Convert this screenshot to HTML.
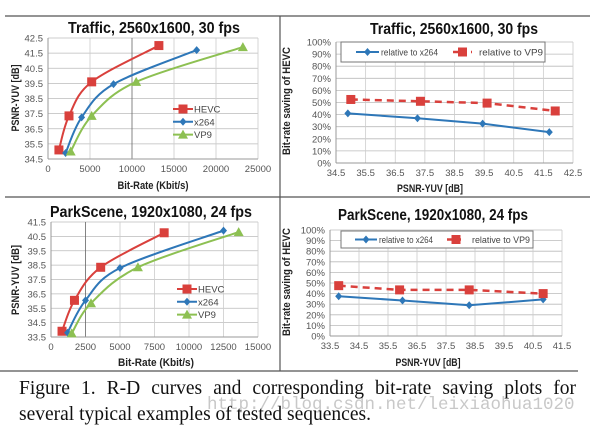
<!DOCTYPE html>
<html><head><meta charset="utf-8"><style>
body{margin:0;background:#fff;width:600px;height:429px;overflow:hidden;position:relative}
svg{position:absolute;left:0;top:0}
.cap{position:absolute;left:19px;width:557px;font-family:"Liberation Serif",serif;font-size:19.5px;color:#111;line-height:26px;text-align:justify;text-align-last:justify}
.wm{position:absolute;left:207px;top:395px;font-family:"Liberation Mono",monospace;font-size:17.5px;color:#c8c8c8}
</style></head><body>
<svg id="s" width="600" height="429" font-family="Liberation Sans, sans-serif"></svg>
<div class="wm">http://blog.csdn.net/leixiaohua1020</div>
<div class="cap" style="top:376px">Figure 1. R-D curves and corresponding bit-rate saving plots for</div>
<div class="cap" style="top:402px;text-align-last:left">several typical examples of tested sequences.</div>
<script>
// Chart 1: Traffic R-D
const c1HevcX=[1300,2500,5200,13200], c1HevcY=[35.1,37.35,39.6,42.0];
const c1X264X=[2100,4000,7800,17700], c1X264Y=[34.9,37.25,39.45,41.7];
const c1Vp9X=[2700,5200,10500,23200], c1Vp9Y=[35.0,37.35,39.6,41.9];
const c1XTicks=[0,5000,10000,15000,20000,25000];
const c1YTicks=[34.5,35.5,36.5,37.5,38.5,39.5,40.5,41.5,42.5];
// Chart 2: Traffic saving
const c2X264X=[34.9,37.25,39.45,41.7], c2X264Y=[41,37,32.5,25.5];
const c2Vp9X=[35.0,37.35,39.6,41.9], c2Vp9Y=[52.5,51,49.5,43];
const c2XTicks=[34.5,35.5,36.5,37.5,38.5,39.5,40.5,41.5,42.5];
const pctTicks=[0,10,20,30,40,50,60,70,80,90,100];
// Chart 3: ParkScene R-D
const c3HevcX=[800,1700,3600,8200], c3HevcY=[33.9,36.05,38.35,40.75];
const c3X264X=[1200,2500,5000,12500], c3X264Y=[33.8,36.05,38.3,40.9];
const c3Vp9X=[1500,2900,6300,13600], c3Vp9Y=[33.75,35.85,38.35,40.8];
const c3XTicks=[0,2500,5000,7500,10000,12500,15000];
const c3YTicks=[33.5,34.5,35.5,36.5,37.5,38.5,39.5,40.5,41.5];
// Chart 4: ParkScene saving
const c4X264X=[33.8,36.0,38.3,40.85], c4X264Y=[37.5,33.5,29,34.5];
const c4Vp9X=[33.8,35.9,38.3,40.85], c4Vp9Y=[47.5,43.5,43.5,40];
const c4XTicks=[33.5,34.5,35.5,36.5,37.5,38.5,39.5,40.5,41.5];

const S=document.getElementById('s');const NS='http://www.w3.org/2000/svg';
function mk(t,a,p){const e=document.createElementNS(NS,t);for(const k in a)e.setAttribute(k,a[k]);(p||S).appendChild(e);return e;}
function txt(x,y,s,a,p){const e=mk('text',Object.assign({x:x,y:y},a),p);e.textContent=s;return e;}
function fit(a,w){return Object.assign(a,{textLength:w,lengthAdjust:'spacingAndGlyphs'});}
const RED='#d9403c',BLUE='#2e77b8',GREEN='#8dc052';
function scale(d0,d1,r0,r1){return v=>r0+(v-d0)/(d1-d0)*(r1-r0);}
function smooth(pts){let d='M'+pts[0][0]+','+pts[0][1];for(let i=0;i<pts.length-1;i++){const p0=pts[i-1]||pts[i],p1=pts[i],p2=pts[i+1],p3=pts[i+2]||p2;const t=6;d+=' C'+(p1[0]+(p2[0]-p0[0])/t)+','+(p1[1]+(p2[1]-p0[1])/t)+' '+(p2[0]-(p3[0]-p1[0])/t)+','+(p2[1]-(p3[1]-p1[1])/t)+' '+p2[0]+','+p2[1];}return d;}
function marker(g,type,x,y,c){
  if(type==='sq')return mk('rect',{x:x-4.5,y:y-4.5,width:9,height:9,fill:c},g);
  if(type==='di')return mk('path',{d:`M${x},${y-4}L${x+3.5},${y}L${x},${y+4}L${x-3.5},${y}Z`,fill:c},g);
  return mk('path',{d:`M${x},${y-5}L${x+5},${y+4}L${x-5},${y+4}Z`,fill:c},g);
}
function chart(o){
  const g=mk('g',{});
  const sx=scale(o.xd[0],o.xd[1],o.x0,o.x1),sy=scale(o.yd[0],o.yd[1],o.y0,o.y1);
  o.yTicks.forEach(v=>{mk('line',{x1:o.x0,x2:o.x1,y1:sy(v),y2:sy(v),stroke:'#bbb','stroke-width':0.8},g);
    txt(o.x0-5,sy(v)+3.5,o.pct?v+'%':v.toFixed(1),{'font-size':9.5,fill:'#555','text-anchor':'end'},g);});
  o.xTicks.forEach(v=>{mk('line',{x1:sx(v),x2:sx(v),y1:o.y0,y2:o.y1,stroke:(o.dark===v?'#666':'#ccc'),'stroke-width':0.8},g);
    txt(sx(v),o.y0+13,o.pct?v.toFixed(1):String(v),{'font-size':9.5,fill:'#555','text-anchor':'middle'},g);});
  mk('line',{x1:o.x0,x2:o.x0,y1:o.y0,y2:o.y1,stroke:'#999'},g);
  mk('line',{x1:o.x0,x2:o.x1,y1:o.y0,y2:o.y0,stroke:'#999'},g);
  const tt=txt(o.tx-o.tw/2,o.ty,o.title,fit({'font-size':16,'font-weight':'bold',fill:'#111'},o.tw),g);
  
  txt(o.xtx-o.xtw/2,o.xty,o.xTitle,fit({'font-size':11,'font-weight':'bold',fill:'#222'},o.xtw),g);
  txt(-o.ytw/2,0,o.yTitle,fit({'font-size':11,'font-weight':'bold',fill:'#222',transform:`translate(${o.ytx},${o.yty}) rotate(-90)`},o.ytw),g);
  o.series.forEach(s=>{
    const sg=mk('g',{},g);
    const pts=s.xs.map((x,i)=>[sx(x),sy(s.ys[i])]);
    mk('path',{d:o.pct?('M'+pts.map(p=>p.join(',')).join('L')):smooth(pts),fill:'none',stroke:s.c,'stroke-width':s.dash?2.5:2,'stroke-dasharray':s.dash?'7,5':'none'},sg);
    pts.forEach(p=>marker(sg,s.m,p[0],p[1],s.c));
  });
  const lg=mk('g',{},g);
  if(o.pct){
    mk('rect',{x:o.lx,y:o.ly,width:o.lw,height:o.lh,fill:'#fff',stroke:'#777'},lg);
    const cy=o.ly+o.lh/2;
    o.series.forEach((s,i)=>{const it=o.items[i];
      mk('line',{x1:it[0],x2:it[1],y1:cy,y2:cy,stroke:s.c,'stroke-width':s.dash?2.5:2,'stroke-dasharray':s.dash?'5,4':'none'},lg);
      marker(lg,s.m,(it[0]+it[1])/2,cy,s.c);
      txt(it[2],cy+3.5,s.label,fit({'font-size':9,fill:'#444'},it[3]),lg);});
  } else {
    o.series.forEach((s,i)=>{const y=o.ly+i*12.8,bx=o.lx;
      mk('line',{x1:bx-10,x2:bx+10,y1:y,y2:y,stroke:s.c,'stroke-width':2},lg);
      marker(lg,s.m,bx,y,s.c);
      txt(bx+11,y+3.5,s.label,{'font-size':9.5,fill:'#444'},lg);});
  }
}
mk('line',{x1:5,x2:590,y1:16,y2:16,stroke:'#555','stroke-width':1.2});
mk('line',{x1:5,x2:590,y1:197,y2:197,stroke:'#555','stroke-width':1.2});
mk('line',{x1:0,x2:578,y1:371,y2:371,stroke:'#555','stroke-width':1.2});
mk('line',{x1:280,x2:280,y1:16,y2:371,stroke:'#555','stroke-width':1.2});

chart({name:'traffic-rd-chart',x0:48,x1:258,y0:159,y1:38,xd:[0,25000],yd:[34.5,42.5],xTicks:c1XTicks,yTicks:c1YTicks,dark:10000,
  title:'Traffic,  2560x1600, 30 fps',tx:154,tw:172,ty:33,xTitle:'Bit-Rate (Kbit/s)',xtx:153,xtw:71,xty:189,yTitle:'PSNR-YUV [dB]',ytx:19,yty:98,ytw:67,
  lx:183,ly:109,series:[{label:'HEVC',xs:c1HevcX,ys:c1HevcY,c:RED,m:'sq'},{label:'x264',xs:c1X264X,ys:c1X264Y,c:BLUE,m:'di'},{label:'VP9',xs:c1Vp9X,ys:c1Vp9Y,c:GREEN,m:'tr'}]});
chart({name:'traffic-saving-chart',pct:true,x0:336,x1:573,y0:163,y1:42,xd:[34.5,42.5],yd:[0,100],xTicks:c2XTicks,yTicks:pctTicks,
  title:'Traffic, 2560x1600, 30 fps',tx:454,tw:168,ty:34,xTitle:'PSNR-YUV [dB]',xtx:430,xtw:66,xty:192,yTitle:'Bit-rate saving of HEVC',ytx:290,yty:101,ytw:108,
  lx:341,ly:42,lw:204,lh:20,items:[[356,379,381,57],[453,472,479,64]],series:[{label:'relative to x264',xs:c2X264X,ys:c2X264Y,c:BLUE,m:'di'},{label:'relative to VP9',xs:c2Vp9X,ys:c2Vp9Y,c:RED,m:'sq',dash:1}]});
chart({name:'parkscene-rd-chart',x0:51,x1:258,y0:337,y1:222,xd:[0,15000],yd:[33.5,41.5],xTicks:c3XTicks,yTicks:c3YTicks,dark:2500,
  title:'ParkScene, 1920x1080, 24 fps',tx:151,tw:202,ty:217,xTitle:'Bit-Rate (Kbit/s)',xtx:156,xtw:76,xty:366,yTitle:'PSNR-YUV [dB]',ytx:19,yty:280,ytw:70,
  lx:187,ly:289,series:[{label:'HEVC',xs:c3HevcX,ys:c3HevcY,c:RED,m:'sq'},{label:'x264',xs:c3X264X,ys:c3X264Y,c:BLUE,m:'di'},{label:'VP9',xs:c3Vp9X,ys:c3Vp9Y,c:GREEN,m:'tr'}]});
chart({name:'parkscene-saving-chart',pct:true,x0:330,x1:562,y0:336,y1:230,xd:[33.5,41.5],yd:[0,100],xTicks:c4XTicks,yTicks:pctTicks,
  title:'ParkScene, 1920x1080, 24 fps',tx:433,tw:190,ty:220,xTitle:'PSNR-YUV [dB]',xtx:428,xtw:65,xty:366,yTitle:'Bit-rate saving of HEVC',ytx:290,yty:282,ytw:108,
  lx:341,ly:231,lw:192,lh:17,items:[[355,377,379,54],[447,465,472,58]],series:[{label:'relative to x264',xs:c4X264X,ys:c4X264Y,c:BLUE,m:'di'},{label:'relative to VP9',xs:c4Vp9X,ys:c4Vp9Y,c:RED,m:'sq',dash:1}]});
</script>
</body></html>
